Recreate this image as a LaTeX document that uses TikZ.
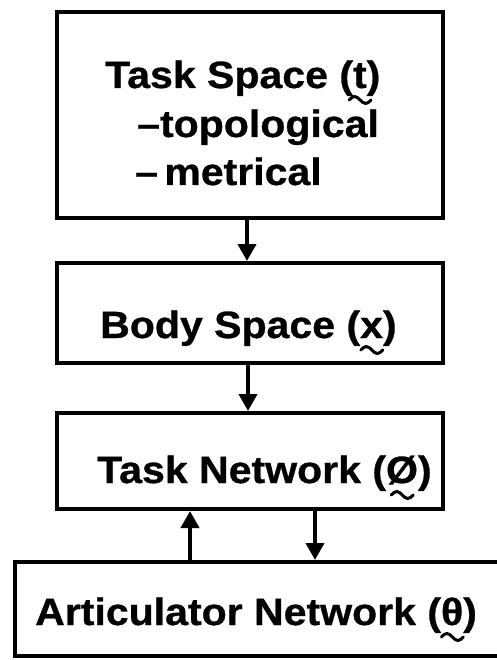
\documentclass[tikz,border=0pt]{standalone}
\usepackage{fontspec}
\usetikzlibrary{arrows.meta,calc}
\newfontfamily\lblfont[FakeStretch=1.08,FakeBold=0.8]{Liberation Sans Bold}
\newcommand\lblsize{\lblfont\fontsize{38}{40}\selectfont}
\newlength\lenpar
\newlength\lenta
\newlength\lentb
\newlength\lentc
\newlength\lentd
\tikzset{
  box/.style={draw, line width=4pt, rectangle, inner sep=0pt},
  lbl/.style={anchor=base west, inner sep=0pt, font=\lblsize},
  arr/.style={line width=4pt, -{Triangle[length=17pt,width=18pt]}},
  tld/.style={line width=3pt, line cap=round}
}
% tilde under the letter (width #2) that stands just before the final ")" of node #1
\newcommand\undertilde[2]{%
  \pgfmathsetmacro\tildeoff{\lenpar+0.5*#2}%
  \draw[tld] ($(#1.base east)+(-\tildeoff,0)$) coordinate (tc)
    ($(tc)+(-11,12)$) sin ($(tc)+(-5.5,8.5)$) cos ($(tc)+(0,12)$) sin ($(tc)+(5.5,15.5)$) cos ($(tc)+(11,12)$);
}
\begin{document}
\settowidth\lenpar{\lblsize )}%
\settowidth\lenta{\lblsize t}%
\settowidth\lentb{\lblsize x}%
\settowidth\lentc{\lblsize Ø}%
\settowidth\lentd{\lblsize θ}%
\begin{tikzpicture}[x=1pt,y=-1pt]
\useasboundingbox (0,0) rectangle (497,660);
\clip (0,0) rectangle (497,660);
\node[box, minimum width=386pt, minimum height=206pt] (ts) at (250,115) {};
\node[box, minimum width=386pt, minimum height=100pt] (bs) at (250,313) {};
\node[box, minimum width=386pt, minimum height=96pt] (tn) at (250,461) {};
\node[box, minimum width=505pt, minimum height=94pt] (an) at (267.5,609) {};
\node[lbl] (t1) at (105,88) {Task Space (t)};
\node[lbl] (t2) at (137,137) {–topological};
\node[lbl] (t3) at (135,185) {–\,metrical};
\node[lbl] (t4) at (100,338) {Body Space (x)};
\node[lbl] (t5) at (97,483) {Task Network (Ø)};
\node[lbl] (t6) at (35,625) {Articulator Network (θ)};
\undertilde{t1}{\lenta}
\undertilde{t4}{\lentb}
\undertilde{t5}{\lentc}
\undertilde{t6}{\lentd}
% connectors
\coordinate (up) at (190,0);
\coordinate (dn) at (315,0);
\draw[arr] (ts.south -| 247,0) -- (bs.north -| 247,0);
\draw[arr] (bs.south -| 248,0) -- (tn.north -| 248,0);
\draw[arr] (an.north -| up) -- (tn.south -| up);
\draw[arr] (tn.south -| dn) -- (an.north -| dn);
\end{tikzpicture}
\end{document}
